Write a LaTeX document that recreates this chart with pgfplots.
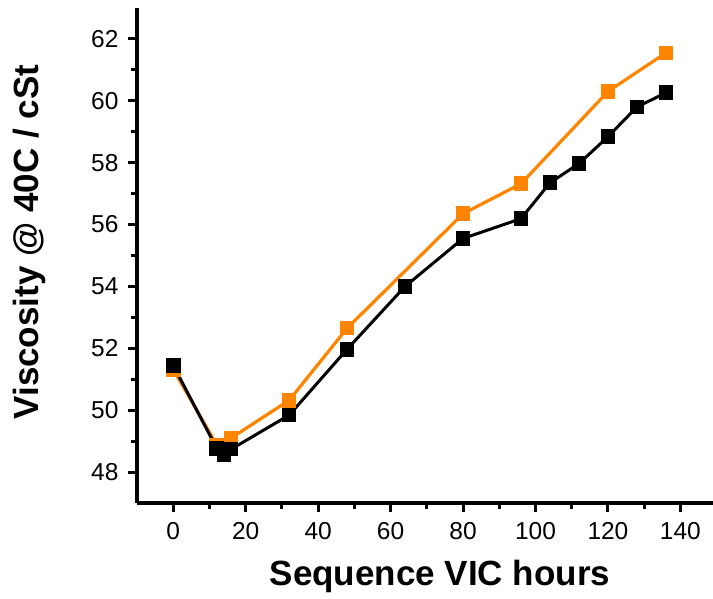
\documentclass[border=0pt]{standalone}
\usepackage{pgfplots}
\pgfplotsset{compat=1.18}
\usepackage{fontspec}
\setmainfont{Liberation Sans}
\definecolor{orng}{RGB}{255,133,0}
\begin{document}
\begin{tikzpicture}[x=1pt,y=1pt]
\useasboundingbox (-137,-96) rectangle (576,503);
\begin{axis}[
  at={(0,0)}, anchor=south west,
  scale only axis, width=576pt, height=495pt,
  xmin=-10, xmax=149, ymin=47, ymax=63,
  axis x line*=bottom, axis y line*=left,
  axis line style={line width=4pt,-},
  every outer x axis line/.append style={line width=4pt},
  every outer y axis line/.append style={line width=4pt},
  xtick={0,20,...,140}, ytick={48,50,...,62},
  minor x tick num=1, minor y tick num=1,
  tick align=outside,
  major tick length=9pt, minor tick length=6pt,
  every tick/.style={line width=3pt,black},
  /pgf/number format/assume math mode=true,
  ticklabel style={font=\fontsize{24.5}{28}\selectfont},
  xticklabel style={yshift=-7pt},
  yticklabel style={xshift=-6pt},
  xlabel={Sequence VIC hours},
  ylabel={Viscosity @ 40C / cSt},
  xlabel style={font=\fontsize{35}{40}\selectfont\bfseries, at={(axis description cs:0.526,-0.149)}, anchor=center},
  ylabel style={font=\fontsize{35}{40}\selectfont\bfseries, at={(axis description cs:-0.186,0.527)}, anchor=center, rotate=0},
  clip=false,
]
\addplot[color=orng, line width=3.2pt, mark=square*, mark size=6.8pt, mark options={solid, fill=orng, draw=orng, line width=0pt}]
coordinates {
(0,51.32) (12,48.88) (16,49.10) (32,50.32) (48,52.65) (80,56.35) (96,57.32) (120,60.30) (136,61.55)
};
\addplot[color=black, line width=3pt, mark=square*, mark size=6.8pt, mark options={solid, fill=black, draw=black, line width=0pt}]
coordinates {
(0,51.45) (12,48.77) (14,48.57) (16,48.74) (32,49.84) (48,51.97) (64,54.00) (80,55.55) (96,56.19) (104,57.35) (112,57.97) (120,58.84) (128,59.80) (136,60.26)
};
\end{axis}
\end{tikzpicture}
\end{document}
